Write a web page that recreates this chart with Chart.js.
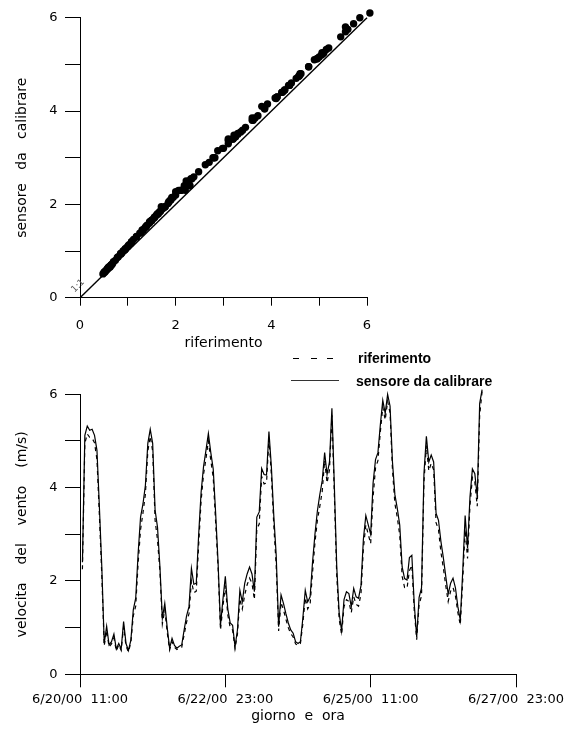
<!DOCTYPE html>
<html><head><meta charset="utf-8">
<script src="https://cdn.jsdelivr.net/npm/chart.js@4/dist/chart.umd.min.js"></script>
<style>
html,body{margin:0;padding:0;background:#fff;width:580px;height:729px;overflow:hidden;position:relative}
canvas{position:absolute;left:0}
#c1{top:0}
#c2{top:350px}
.leg{position:absolute;font:bold 14px "Liberation Sans",Arial,sans-serif;color:#000;white-space:nowrap;line-height:16px}
.ln{position:absolute;height:1px;background:#000}
</style></head><body>
<canvas id="c2" width="580" height="379"></canvas>
<canvas id="c1" width="580" height="360"></canvas>
<div class="ln" style="left:293px;top:358px;width:6px"></div>
<div class="ln" style="left:311px;top:358px;width:6px"></div>
<div class="ln" style="left:327px;top:358px;width:6px"></div>
<div class="leg" style="left:358px;top:350px">riferimento</div>
<div class="ln" style="left:291px;top:380px;width:48px;background:#333"></div>
<div class="leg" style="left:356px;top:373px">sensore da calibrare</div>
<script>
// ---- data ----
const firstHour = 1; // hours after 6/20/00 11:00 of the first sample (hourly samples)
const sensore = [2.4,5.12,5.32,5.23,5.25,5.12,4.8,3.59,2.3,0.66,1.03,0.63,0.70,0.86,0.54,0.66,0.54,1.13,0.66,0.51,
0.73,1.38,1.63,2.59,3.37,3.65,4.05,4.95,5.25,4.95,3.52,3.15,2.3,1.2,1.52,1.0,0.56,0.77,0.62,0.56,
0.6,0.63,0.95,1.25,1.45,2.27,1.93,1.95,3.0,3.9,4.45,4.8,5.16,4.75,4.4,3.45,2.4,1.05,1.6,2.1,
1.4,1.1,1.05,0.59,0.95,1.8,1.55,1.95,2.15,2.3,2.15,1.77,3.37,3.48,4.41,4.28,4.27,5.2,4.45,3.4,
2.55,1.02,1.7,1.52,1.3,1.1,0.95,0.88,0.7,0.66,0.7,1.2,1.8,1.55,1.66,2.4,3.0,3.5,3.85,4.15,
4.75,4.28,4.55,5.7,4.05,2.3,1.31,0.93,1.6,1.77,1.73,1.45,1.84,1.66,1.63,1.9,2.9,3.4,3.2,3.0,
4.1,4.6,4.75,5.35,5.87,5.59,6.0,5.75,4.55,3.85,3.55,3.2,2.3,2.05,2.02,2.5,2.55,1.5,0.8,1.65,
1.85,4.3,5.1,4.55,4.7,4.55,3.45,3.3,2.85,2.5,2.1,1.72,1.95,2.06,1.85,1.45,1.16,2.2,3.4,2.7,
3.8,4.4,4.3,3.8,5.8,6.1];
const riferimento = [2.25,4.95,5.15,5.08,5.06,4.96,4.6,3.4,2.12,0.61,0.94,0.59,0.65,0.78,0.5,0.63,0.51,1.02,0.6,0.48,
0.68,1.25,1.46,2.38,3.1,3.46,3.86,4.78,5.1,4.78,3.3,2.88,2.2,1.08,1.38,0.9,0.52,0.7,0.58,0.53,
0.56,0.58,0.85,1.12,1.3,2.0,1.75,1.78,2.78,3.72,4.28,4.62,5.0,4.58,4.22,3.25,2.3,0.95,1.45,1.9,
1.28,1.0,0.95,0.55,0.86,1.62,1.4,1.7,1.92,2.06,1.95,1.6,3.12,3.22,4.24,4.08,4.1,5.05,4.28,3.2,
2.32,0.93,1.54,1.38,1.18,1.0,0.87,0.8,0.65,0.62,0.66,1.08,1.64,1.4,1.5,2.18,2.82,3.3,3.6,3.92,
4.58,4.1,4.38,5.55,3.86,2.1,1.18,0.85,1.45,1.6,1.56,1.32,1.66,1.5,1.46,1.72,2.7,3.2,3.0,2.8,
3.8,4.42,4.58,5.2,5.72,5.45,5.85,5.6,4.38,3.66,3.36,2.98,2.1,1.86,1.84,2.22,2.34,1.36,0.74,1.5,
1.68,4.12,4.9,4.36,4.52,4.38,3.25,3.1,2.62,2.28,1.9,1.56,1.78,1.86,1.68,1.32,1.06,2.0,3.1,2.48,
3.62,4.22,4.12,3.6,5.55,6.06];
const oneToOne = [0, 6];
const tickHours = [0, 60, 120, 180];
const tickLabels = ['6/20/00  11:00', '6/22/00  23:00', '6/25/00  11:00', '6/27/00  23:00'];
const scatterTicks = [0, 1, 2, 3, 4, 5, 6];
const labelledTicks = [0, 2, 4, 6];

// ---- shared style ----
const FONT = '"DejaVu Sans", sans-serif';
Chart.defaults.font.family = FONT;
Chart.defaults.color = '#000';
const tickFont = {family: FONT, size: 13};
const titleFont = {family: FONT, size: 14};
const evenCb = v => labelledTicks.includes(v) ? String(v) : '';
function gridOpts(len){ return {display:true, drawOnChartArea:false, drawTicks:true, tickLength:len, color:'#000', lineWidth:1}; }
const border = {display:true, color:'#000', width:1};

// ---- top: scatter ----
const oneLabel = {
  id:'oneLabel',
  afterDatasetsDraw(chart){
    const {ctx, scales:{x, y}} = chart;
    const px = x.getPixelForValue(-0.04), py = y.getPixelForValue(0.25);
    ctx.save(); ctx.translate(px, py); ctx.rotate(-Math.PI/4);
    ctx.font = '9px ' + FONT; ctx.fillStyle = '#555'; ctx.textAlign = 'center'; ctx.textBaseline = 'middle';
    ctx.fillText('1:1', 0, 0); ctx.restore();
  }
};
new Chart(document.getElementById('c1'), {
  type: 'scatter',
  data: { datasets: [
    { label: 'punti', data: riferimento.map((r, i) => ({x: r, y: sensore[i]})),
      pointRadius: 3.7, pointBackgroundColor: '#000', pointBorderColor: 'rgba(0,0,0,0)', pointBorderWidth: 4,
      showLine: false, clip: false },
    { label: '1:1', data: oneToOne.map(v => ({x: v, y: v})), showLine: true, borderColor: '#000',
      borderWidth: 1.4, pointRadius: 0, clip: false }
  ]},
  options: {
    responsive: false, animation: false, events: [],
    layout: {padding: {top: 17.7, right: 213, bottom: 0, left: 0}},
    plugins: {legend: {display: false}, tooltip: {enabled: false}},
    scales: {
      x: { type: 'linear', min: 0, max: 6,
        afterBuildTicks: s => { s.ticks = scatterTicks.map(v => ({value: v})); },
        afterFit: s => { s.height = 62.3; },
        ticks: {callback: evenCb, font: tickFont, padding: 12, autoSkip: false, maxRotation: 0, color:'#000'},
        grid: gridOpts(8), border,
        title: {display: true, text: 'riferimento', font: titleFont, color:'#000', padding: {top: 0, bottom: 8.6}} },
      y: { type: 'linear', min: 0, max: 6,
        afterBuildTicks: s => { s.ticks = scatterTicks.map(v => ({value: v})); },
        afterFit: s => { s.width = 80; },
        ticks: {callback: evenCb, font: tickFont, padding: 7.5, autoSkip: false, color:'#000'},
        grid: gridOpts(15), border,
        title: {display: true, text: 'sensore   da   calibrare', font: titleFont, color:'#000', padding: {top: 14, bottom: 0}} }
    }
  },
  plugins: [oneLabel]
});

// ---- bottom: time series ----
new Chart(document.getElementById('c2'), {
  type: 'scatter',
  data: { datasets: [
    { label: 'sensore da calibrare', data: sensore.map((v, i) => ({x: firstHour + i, y: v})),
      showLine: true, borderColor: '#000', borderWidth: 1.2, pointRadius: 0, tension: 0, clip: false },
    { label: 'riferimento', data: riferimento.map((v, i) => ({x: firstHour + i, y: v})),
      showLine: true, borderColor: '#000', borderWidth: 1.2, borderDash: [4, 4], pointRadius: 0, tension: 0, clip: false }
  ]},
  options: {
    responsive: false, animation: false, events: [],
    layout: {padding: {top: 44.3, right: 64, bottom: 0, left: 0}},
    plugins: {legend: {display: false}, tooltip: {enabled: false}},
    scales: {
      x: { type: 'linear', min: 0, max: 180,
        afterBuildTicks: s => { s.ticks = tickHours.map(v => ({value: v})); },
        afterFit: s => { s.height = 54.7; },
        ticks: {callback: v => tickLabels[tickHours.indexOf(v)] ?? '', font: tickFont, padding: 4.2, autoSkip: false, maxRotation: 0, color:'#000'},
        grid: gridOpts(13), border,
        title: {display: true, text: 'giorno  e  ora', font: titleFont, color:'#000', padding: {top: 0, bottom: 4.6}} },
      y: { type: 'linear', min: 0, max: 6,
        afterBuildTicks: s => { s.ticks = scatterTicks.map(v => ({value: v})); },
        afterFit: s => { s.width = 80; },
        ticks: {callback: evenCb, font: tickFont, padding: 7.5, autoSkip: false, color:'#000'},
        grid: gridOpts(15), border,
        title: {display: true, text: 'velocita    del    vento    (m/s)', font: titleFont, color:'#000', padding: {top: 14, bottom: 0}} }
    }
  }
});
</script>
</body></html>
